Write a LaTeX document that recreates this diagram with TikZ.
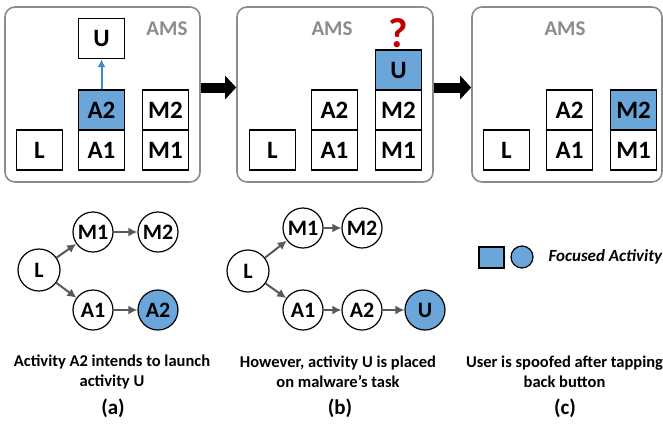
\documentclass[tikz,border=0pt]{standalone}
\usepackage{fontspec}
\setmainfont{Carlito}
\usepackage{tikz}
\usetikzlibrary{positioning,arrows.meta}
\definecolor{focusblue}{HTML}{6AA6DA}
\definecolor{panelgray}{HTML}{8C8C8C}
\definecolor{flowgray}{HTML}{595959}
\definecolor{launchblue}{HTML}{3D8BCB}
\definecolor{askred}{HTML}{C00000}
\tikzset{
    on grid,
    node distance=40pt,
    >={Latex[length=9pt,width=9pt]},
    act/.style = {
        draw,
        shape=rectangle,
        minimum height=40pt,
        minimum width=46pt,
        inner sep=0pt,
        line width=1.2pt,
        fill=white,
        font=\fontsize{25}{25}\selectfont\bfseries
    },
    state/.style = {
        draw,
        shape=circle,
        minimum size=40pt,
        inner sep=0pt,
        line width=1.2pt,
        fill=white,
        font=\fontsize{22}{22}\selectfont\bfseries
    },
    focus/.style = {fill=focusblue},
    panel/.style = {
        draw=panelgray,
        shape=rectangle,
        rounded corners=10pt,
        line width=1.6pt,
        minimum height=175pt
    },
    ams/.style = {text=panelgray, font=\fontsize{21}{21}\selectfont\bfseries},
    bigarrow/.style = {draw, line width=10pt, -{Triangle[length=11pt,width=23pt]}},
    flow/.style = {draw=flowgray, line width=2pt},
    caption/.style = {align=center, font=\fontsize{16.5}{20}\selectfont\bfseries},
    tag/.style = {font=\fontsize{21}{21}\selectfont\bfseries},
}

\begin{document}
\begin{tikzpicture}[x=1pt,y=-1pt]
    \useasboundingbox (0,0) rectangle (663,424);

    % task stacks in the AMS
    \node[panel, minimum width=195pt] (panela) at (102.5,94.5) {};
    \node[panel, minimum width=196pt] (panelb) at (335,94.5) {};
    \node[panel, minimum width=190pt] (panelc) at (567,94.5) {};
    \node[ams] (amsa) at (167,29) {AMS};
    \node[ams] (amsb) at (332,29) {AMS};
    \node[ams] (amsc) at (565,29) {AMS};

    \node[act] (lboxa) at (39.5,150) {L};
    \node[act, right=62pt of lboxa] (aonea) {A1};
    \node[act, focus, above=of aonea] (atwoa) {A2};
    \node[act, right=64pt of aonea] (monea) {M1};
    \node[act, above=of monea] (mtwoa) {M2};
    \node[act, above=71.5pt of atwoa] (ua) {U};
    \path[draw, launchblue, line width=2pt, -{Latex[length=8pt,width=8pt]}] (atwoa) -- (ua);

    \node[act] (lboxb) at (272.5,150) {L};
    \node[act, right=62pt of lboxb] (aoneb) {A1};
    \node[act, above=of aoneb] (atwob) {A2};
    \node[act, right=64pt of aoneb] (moneb) {M1};
    \node[act, above=of moneb] (mtwob) {M2};
    \node[act, focus, above=of mtwob] (ub) {U};
    \node[text=askred, font=\fontsize{42}{42}\selectfont\bfseries, above=37pt of ub] (ask) {?};

    \node[act] (lboxc) at (506.5,150) {L};
    \node[act, right=63pt of lboxc] (aonec) {A1};
    \node[act, above=of aonec] (atwoc) {A2};
    \node[act, right=64pt of aonec] (monec) {M1};
    \node[act, focus, above=of monec] (mtwoc) {M2};

    \path[bigarrow] ([yshift=7pt]panela.east) -- ([yshift=7pt]panelb.west);
    \path[bigarrow] ([yshift=7pt]panelb.east) -- ([yshift=7pt]panelc.west);

    % activity graphs
    \node[state, minimum size=42pt] (lga) at (39,270) {L};
    \node[state, above right=38pt and 54pt of lga] (monega) {M1};
    \node[state, right=65pt of monega] (mtwoga) {M2};
    \node[state, below right=40pt and 54pt of lga] (aonega) {A1};
    \node[state, focus, right=65pt of aonega] (atwoga) {A2};
    \path[flow, ->] (lga) -- (monega);
    \path[flow, ->] (lga) -- (aonega);
    \path[flow, ->] (monega) -- (mtwoga);
    \path[flow, ->] (aonega) -- (atwoga);

    \node[state, minimum size=42pt] (lgb) at (248,271) {L};
    \node[state, above right=43pt and 55pt of lgb] (monegb) {M1};
    \node[state, right=59pt of monegb] (mtwogb) {M2};
    \node[state, below right=39pt and 55pt of lgb] (aonegb) {A1};
    \node[state, right=59pt of aonegb] (atwogb) {A2};
    \node[state, focus, right=63pt of atwogb] (ugb) {U};
    \path[flow, ->] (lgb) -- (monegb);
    \path[flow, ->] (lgb) -- (aonegb);
    \path[flow, ->] (monegb) -- (mtwogb);
    \path[flow, ->] (aonegb) -- (atwogb);
    \path[flow, ->] (atwogb) -- (ugb);

    % legend
    \node[draw, fill=focusblue, line width=1.2pt, minimum width=25pt, minimum height=21pt, inner sep=0pt] (keybox) at (491.5,257.5) {};
    \node[draw, circle, fill=focusblue, line width=1.2pt, minimum size=22pt, inner sep=0pt] (keycircle) at (522,257) {};
    \node[anchor=west, font=\fontsize{17}{17}\selectfont\bfseries\itshape] (keytext) at (545,257) {Focused Activity};

    % captions
    \node[caption] (capa) at (112,372) {Activity A2 intends to launch\\activity U};
    \node[tag] (taga) at (113,408) {(a)};
    \node[caption] (capb) at (338,372) {However, activity U is placed\\on malware’s task};
    \node[tag] (tagb) at (340,408) {(b)};
    \node[caption] (capc) at (564.5,372) {User is spoofed after tapping\\back button};
    \node[tag] (tagc) at (565,408) {(c)};
\end{tikzpicture}
\end{document}
